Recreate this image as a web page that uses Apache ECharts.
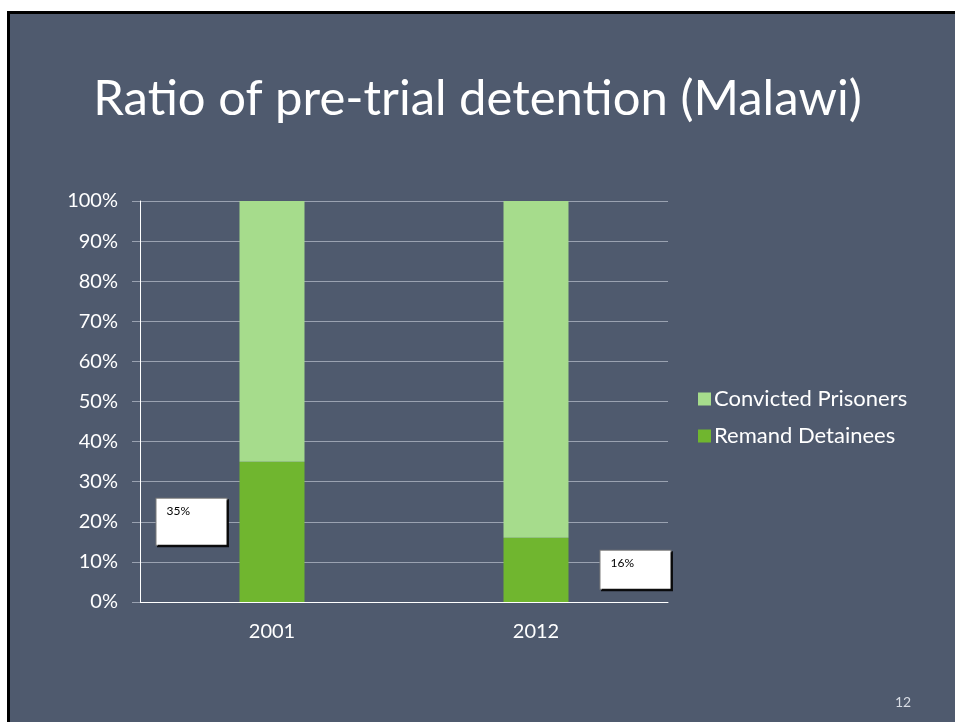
<!DOCTYPE html>
<html>
<head>
<meta charset="utf-8">
<script src="https://cdn.jsdelivr.net/npm/echarts@6/dist/echarts.min.js"></script>
<style>
  html, body { margin: 0; padding: 0; background: #ffffff; width: 955px; height: 722px; overflow: hidden; }
  #slide { position: absolute; left: 7px; top: 11px; width: 948px; height: 711px; box-sizing: border-box;
           border-left: 3px solid #000; border-top: 3px solid #000; background: #4f5a6e; }
  #chart { position: absolute; left: 0; top: 0; width: 955px; height: 722px; }
</style>
</head>
<body>
<div id="slide"></div>
<div id="chart"></div>
<script>
const titleText = 'Ratio of pre-trial detention (Malawi)';
const pageNumber = '12';
const categories = ['2001', '2012'];
const remandDetainees = [35, 16];
const convictedPrisoners = [65, 84];
const yTicks = [0, 10, 20, 30, 40, 50, 60, 70, 80, 90, 100];

const FONT = 'Lato, "Open Sans", sans-serif';
const boxStyle = {
  show: true,
  formatter: '{c}%',
  color: '#000',
  fontFamily: FONT,
  fontSize: 12,
  lineHeight: 14,
  align: 'left',
  verticalAlign: 'top',
  backgroundColor: '#ffffff',
  borderColor: '#7a7a7a',
  borderWidth: 1,
  shadowColor: 'rgba(0,0,0,0.85)',
  shadowOffsetX: 1.5,
  shadowOffsetY: 1.5,
  shadowBlur: 0
};
const remandLabels = [
  Object.assign({}, boxStyle, { position: [-83, 37], width: 60, height: 41, padding: [5, 0, 0, 10] }),
  Object.assign({}, boxStyle, { position: [97, 13], width: 60, height: 33, padding: [5, 0, 0, 10] })
];

const chart = echarts.init(document.getElementById('chart'), null, { renderer: 'canvas' });
chart.setOption({
  backgroundColor: 'transparent',
  animation: false,
  title: [
    { text: titleText, left: 'center', top: 70, textStyle: { color: '#ffffff', fontFamily: FONT, fontSize: 49, fontWeight: 'normal' } },
    { text: pageNumber, left: 890, top: 690, textStyle: { color: '#d8dce4', fontFamily: FONT, fontSize: 14, fontWeight: 'normal' } }
  ],
  legend: {
    orient: 'vertical',
    left: 693,
    top: 383,
    itemWidth: 13,
    itemHeight: 13,
    itemGap: 15,
    data: ['Convicted Prisoners', 'Remand Detainees'],
    textStyle: { color: '#ffffff', fontFamily: FONT, fontSize: 22, padding: [0, 0, 0, -2] },
    icon: 'rect'
  },
  grid: { left: 140, right: 287, top: 201, bottom: 120, containLabel: false },
  xAxis: {
    type: 'category',
    data: categories,
    axisLine: { show: true, lineStyle: { color: '#ffffff', width: 1 } },
    axisTick: { show: false },
    axisLabel: { color: '#ffffff', fontFamily: FONT, fontSize: 20, margin: 20 }
  },
  yAxis: {
    type: 'value',
    min: yTicks[0],
    max: yTicks[yTicks.length - 1],
    interval: 10,
    axisLine: { show: true, lineStyle: { color: '#ffffff', width: 1 } },
    axisTick: { show: true, length: 8, lineStyle: { color: '#9aa2b1' } },
    axisLabel: { color: '#ffffff', fontFamily: FONT, fontSize: 20, margin: 22, formatter: '{value}%' },
    splitLine: { show: true, lineStyle: { color: '#9aa2b1', width: 1 } }
  },
  series: [
    {
      name: 'Remand Detainees',
      type: 'bar',
      stack: 'total',
      barWidth: 65,
      itemStyle: { color: '#70b62f' },
      data: remandDetainees.map((v, i) => ({ value: v, label: remandLabels[i] }))
    },
    {
      name: 'Convicted Prisoners',
      type: 'bar',
      stack: 'total',
      barWidth: 65,
      itemStyle: { color: '#a6dc8c' },
      data: convictedPrisoners
    }
  ]
});
</script>
</body>
</html>
